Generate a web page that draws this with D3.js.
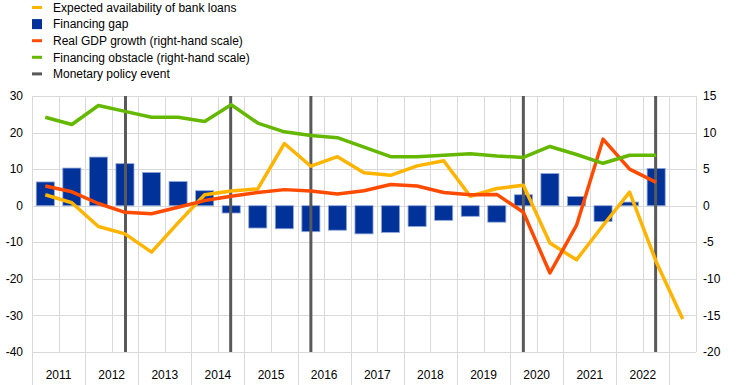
<!DOCTYPE html>
<html>
<head>
<meta charset="utf-8">
<script src="https://cdn.jsdelivr.net/npm/d3@7"></script>
<style>
  body { margin: 0; background: #fff; }
  text { font-family: "Liberation Sans", Arial, sans-serif; font-size: 12px; fill: #000; }
</style>
</head>
<body>
<svg width="737" height="385"></svg>
<script>
// survey waves (half-years)
const waves = ["2011H1","2011H2","2012H1","2012H2","2013H1","2013H2","2014H1","2014H2",
  "2015H1","2015H2","2016H1","2016H2","2017H1","2017H2","2018H1","2018H2",
  "2019H1","2019H2","2020H1","2020H2","2021H1","2021H2","2022H1","2022H2","2023H1"];
const years = [2011,2012,2013,2014,2015,2016,2017,2018,2019,2020,2021,2022];

// left scale
const financingGap = [6.5,10.3,13.3,11.5,9.1,6.6,4.1,-2.0,-6.1,-6.3,-7.1,-6.7,-7.7,-7.3,-5.7,-4.0,-2.9,-4.5,3.0,8.8,2.5,-4.3,1.0,10.2,null];
const expectedLoans = [3.0,0.8,-5.7,-7.7,-12.7,-4.7,3.0,4.0,4.6,17.0,10.8,13.4,9.0,8.3,10.9,12.3,2.6,4.7,5.6,-10.2,-14.8,-5.4,3.7,-15.3,-31.0];
// right scale
const gdpGrowth = [2.7,1.9,0.3,-0.9,-1.1,-0.2,0.7,1.3,1.8,2.2,2.0,1.6,2.05,2.9,2.7,1.8,1.5,1.55,-0.9,-9.2,-2.7,9.1,5.0,3.2,null];
const financingObstacle = [12.1,11.1,13.7,12.9,12.1,12.1,11.5,13.8,11.3,10.1,9.6,9.3,8.0,6.7,6.7,6.9,7.1,6.8,6.6,8.1,7.0,5.8,6.9,6.9,null];

// monetary policy events (decimal years)
const events = [2012.76, 2014.74, 2016.25, 2020.25, 2022.74];

const leftTicks = [-40,-30,-20,-10,0,10,20,30];
const rightTicks = [-20,-15,-10,-5,0,5,10,15];

const colors = { loans: "#ffb400", gap: "#003299", gdp: "#ff4b00", obstacle: "#65b800", event: "#595959" };

const svg = d3.select("svg");
const plotL = 32, plotR = 696, plotT = 96, plotB = 352;

const x = d3.scaleBand().domain(waves).range([plotL, plotR]).paddingInner(0.32).paddingOuter(0.16);
const t = d3.scaleLinear().domain([2011, 2023.5]).range([plotL, plotR]);
const y = d3.scaleLinear().domain([-40, 30]).range([plotB, plotT]);
const y2 = d3.scaleLinear().domain([-20, 15]).range([plotB, plotT]);
const cx = d => x(d) + x.bandwidth() / 2;

// grid
const grid = svg.append("g").attr("stroke", "#d9d9d9").attr("stroke-width", 1);
grid.selectAll(".h").data(leftTicks).enter().append("line")
  .attr("x1", plotL).attr("x2", plotR)
  .attr("y1", d => Math.round(y(d)) + 0.5).attr("y2", d => Math.round(y(d)) + 0.5);
grid.selectAll(".v").data(d3.range(2011, 2023.51, 0.5)).enter().append("line")
  .attr("x1", d => Math.round(t(d)) + 0.5).attr("x2", d => Math.round(t(d)) + 0.5)
  .attr("y1", plotT).attr("y2", plotB);
grid.selectAll(".yt").data(d3.range(2011, 2024)).enter().append("line")
  .attr("x1", d => Math.round(t(d)) + 0.5).attr("x2", d => Math.round(t(d)) + 0.5)
  .attr("y1", plotB).attr("y2", 385);

// bars
svg.append("g").selectAll("rect")
  .data(waves.map((w, i) => ({ w, v: financingGap[i] })).filter(d => d.v != null))
  .enter().append("rect")
  .attr("x", d => x(d.w))
  .attr("y", d => y(Math.max(0, d.v)))
  .attr("width", x.bandwidth())
  .attr("height", d => Math.abs(y(d.v) - y(0)))
  .attr("fill", colors.gap)
  .attr("stroke", "#8ea6d8")
  .attr("stroke-width", 0.8);

// monetary policy events
svg.append("g").selectAll("line").data(events).enter().append("line")
  .attr("x1", d => t(d)).attr("x2", d => t(d))
  .attr("y1", plotT).attr("y2", plotB)
  .attr("stroke", colors.event).attr("stroke-width", 3);

// lines
function drawLine(values, scale, color) {
  const pts = waves.map((w, i) => [w, values[i]]).filter(d => d[1] != null);
  svg.append("path")
    .attr("d", d3.line().x(d => cx(d[0])).y(d => scale(d[1]))(pts))
    .attr("fill", "none").attr("stroke", color).attr("stroke-width", 3.5)
    .attr("stroke-linejoin", "round");
}
drawLine(expectedLoans, y, colors.loans);
drawLine(gdpGrowth, y2, colors.gdp);
drawLine(financingObstacle, y2, colors.obstacle);

// axis labels
svg.append("g").selectAll("text").data(leftTicks).enter().append("text")
  .attr("x", 23).attr("y", d => y(d)).attr("dy", "0.35em")
  .attr("text-anchor", "end").text(d => d);
svg.append("g").selectAll("text").data(rightTicks).enter().append("text")
  .attr("x", 703).attr("y", d => y2(d)).attr("dy", "0.35em")
  .text(d => d);
svg.append("g").selectAll("text").data(years).enter().append("text")
  .attr("x", d => t(d + 0.5)).attr("y", 379)
  .attr("text-anchor", "middle").text(d => d);

// legend
const legend = [
  { name: "Expected availability of bank loans", color: colors.loans, type: "line" },
  { name: "Financing gap", color: colors.gap, type: "rect" },
  { name: "Real GDP growth (right-hand scale)", color: colors.gdp, type: "line" },
  { name: "Financing obstacle (right-hand scale)", color: colors.obstacle, type: "line" },
  { name: "Monetary policy event", color: colors.event, type: "line" }
];
const lg = svg.append("g").selectAll("g").data(legend).enter().append("g")
  .attr("transform", (d, i) => `translate(32,${7.5 + i * 16.6})`);
lg.filter(d => d.type === "line").append("rect")
  .attr("x", 0).attr("y", -1.5).attr("width", 10).attr("height", 3).attr("fill", d => d.color);
lg.filter(d => d.type === "rect").append("rect")
  .attr("x", 0).attr("y", -5).attr("width", 10).attr("height", 10).attr("fill", d => d.color);
lg.append("text").attr("x", 21).attr("dy", "0.35em").text(d => d.name);
</script>
</body>
</html>
